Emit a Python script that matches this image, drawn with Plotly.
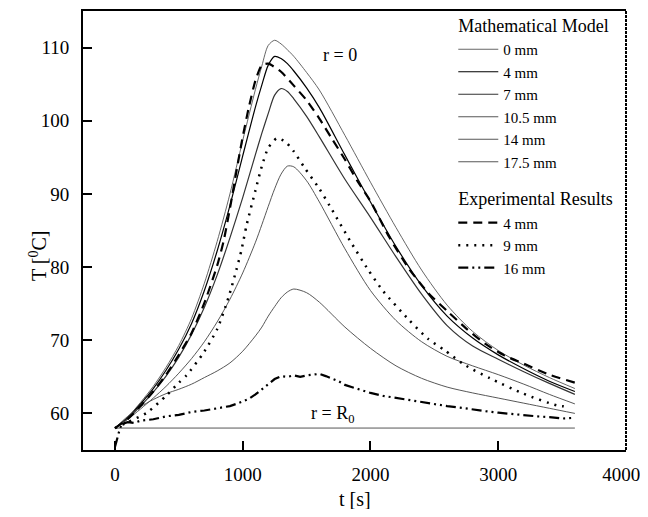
import plotly.graph_objs as go

# time grid for the model curves [s]
t_model = [0, 100, 200, 300, 400, 500, 600, 700, 800, 900, 1000, 1100, 1150, 1200, 1250,
           1300, 1350, 1400, 1500, 1600, 1800, 2000, 2200, 2400, 2600, 2800, 3000, 3200,
           3400, 3600]

# mathematical model, temperature [C]
T_0mm = [58.0, 59.5, 61.5, 63.7, 66.3, 69.3, 73.0, 77.8, 83.5, 90.0, 97.3, 104.3, 107.5,
         110.3, 111.0, 110.5, 109.7, 108.8, 106.6, 104.2, 98.0, 91.6, 85.4, 79.6, 74.8,
         71.2, 68.6, 66.6, 64.9, 63.4]
T_4mm = [58.0, 59.4, 61.3, 63.4, 65.9, 68.8, 72.3, 76.8, 82.2, 88.4, 95.2, 101.9, 104.9,
         107.6, 108.8, 108.5, 107.8, 106.8, 104.5, 101.8, 95.3, 88.9, 82.8, 77.5, 73.3,
         70.3, 68.0, 66.1, 64.4, 63.0]
T_7mm = [58.0, 59.3, 61.0, 62.9, 65.1, 67.7, 70.8, 74.5, 78.9, 84.0, 89.5, 95.4, 98.3,
         101.0, 103.5, 104.4, 104.0, 103.0, 100.6, 97.8, 92.0, 86.8, 81.4, 76.3, 72.0,
         69.2, 67.4, 65.7, 64.1, 62.6]
T_10mm = [58.0, 59.2, 60.6, 62.1, 63.7, 65.5, 67.5, 69.8, 72.5, 75.6, 79.2, 83.4, 85.8,
          88.3, 90.7, 92.7, 93.8, 93.7, 91.8, 88.9, 82.5, 76.8, 72.7, 69.8, 67.8, 66.5,
          65.3, 64.0, 62.6, 61.3]
T_14mm = [58.0, 59.6, 60.9, 61.9, 62.7, 63.3, 64.0, 64.9, 65.8, 66.9, 68.5, 70.6, 71.8,
          73.3, 74.6, 75.8, 76.6, 77.0, 76.5, 75.2, 71.8, 68.9, 66.5, 64.8, 63.6, 62.8,
          62.1, 61.4, 60.7, 60.0]
t_wall = [0, 3600]
T_wall = [58.0, 58.0]

# experimental results
t_exp4 = [0, 100, 200, 300, 400, 500, 600, 700, 800, 850, 900, 950, 1000, 1050, 1100,
          1150, 1200, 1300, 1400, 1500, 1600, 1700, 1800, 1900, 2000, 2150, 2300, 2450,
          2600, 2750, 2900, 3050, 3200, 3400, 3600]
T_exp4 = [58.0, 59.2, 61.0, 63.0, 65.3, 68.0, 71.0, 75.1, 80.2, 83.5, 88.0, 93.0, 97.8,
          102.0, 105.5, 107.6, 107.8, 106.7, 104.8, 102.8, 100.3, 97.5, 94.7, 91.7, 89.0,
          84.0, 79.8, 76.5, 74.0, 71.6, 69.5, 67.9, 66.8, 65.3, 64.2]

t_exp9 = [0, 100, 250, 400, 500, 560, 690, 800, 890, 950, 990, 1030, 1100, 1150, 1200,
          1266, 1330, 1400, 1487, 1600, 1700, 1840, 1983, 2100, 2300, 2450, 2583, 2740,
          2935, 3196, 3457, 3560]
T_exp9 = [58.0, 58.8, 60.1, 62.4, 64.2, 65.2, 68.2, 71.5, 75.9, 79.6, 82.3, 85.7, 90.5,
          93.8, 96.3, 97.6, 97.2, 95.8, 93.5, 90.7, 87.8, 83.6, 79.6, 76.7, 72.8, 70.2,
          68.6, 66.6, 64.8, 62.7, 61.1, 60.9]

t_exp16 = [0, 20, 40, 60, 100, 150, 200, 300, 400, 500, 600, 700, 800, 900, 950, 1000,
           1050, 1100, 1150, 1200, 1250, 1300, 1350, 1400, 1450, 1500, 1550, 1600, 1650,
           1700, 1750, 1800, 1900, 2000, 2100, 2200, 2300, 2400, 2500, 2600, 2700, 2800,
           2900, 3000, 3100, 3200, 3300, 3400, 3500, 3600]
T_exp16 = [55.4, 56.8, 58.0, 58.6, 58.8, 58.7, 59.0, 59.2, 59.6, 59.8, 60.2, 60.4, 60.7,
           61.0, 61.3, 61.6, 62.0, 62.6, 63.3, 64.0, 64.7, 65.1, 65.0, 65.2, 65.0, 65.2,
           65.3, 65.4, 65.1, 64.8, 64.4, 63.9, 63.3, 62.8, 62.4, 62.1, 61.8, 61.5, 61.2,
           61.0, 60.8, 60.5, 60.3, 60.1, 59.9, 59.8, 59.6, 59.5, 59.3, 59.4]

x_ticks = [0, 1000, 2000, 3000, 4000]
# last label padded so it is not cut at the window edge
x_ticktext = ['0', '1000', '2000', '3000', '4000\u00a0\u00a0']
y_ticks = [60, 70, 80, 90, 100, 110]

FONT = 'Liberation Serif'

fig = go.Figure()

model = [('0 mm', T_0mm, 0.9, '#555555'), ('4 mm', T_4mm, 1.2, 'black'),
         ('7 mm', T_7mm, 1.2, '#333333'), ('10.5 mm', T_10mm, 0.9, '#444444'),
         ('14 mm', T_14mm, 0.9, '#444444')]
for name, vals, w, col in model:
    fig.add_trace(go.Scatter(x=t_model, y=vals, name=name, mode='lines',
                             line=dict(color=col, width=w, shape='spline', smoothing=0.8),
                             legendgroup='model', legendgrouptitle_text='Mathematical Model'))
fig.add_trace(go.Scatter(x=t_wall, y=T_wall, name='17.5 mm', mode='lines',
                         line=dict(color='#444444', width=0.9),
                         legendgroup='model', legendgrouptitle_text='Mathematical Model'))

fig.add_trace(go.Scatter(x=t_exp4, y=T_exp4, name='4 mm', mode='lines',
                         line=dict(color='black', width=2.2, dash='9px,6px', shape='spline', smoothing=0.6),
                         legendgroup='exp', legendgrouptitle_text='Experimental Results'))
fig.add_trace(go.Scatter(x=t_exp9, y=T_exp9, name='9 mm', mode='lines',
                         line=dict(color='black', width=2.5, dash='2px,6px', shape='spline', smoothing=0.6),
                         legendgroup='exp', legendgrouptitle_text='Experimental Results'))
fig.add_trace(go.Scatter(x=t_exp16, y=T_exp16, name='16 mm', mode='lines',
                         line=dict(color='black', width=2.2, dash='10px,4px,2px,4px,2px,4px'),
                         legendgroup='exp', legendgrouptitle_text='Experimental Results'))

fig.add_annotation(x=1760, y=109.0, text='r = 0', showarrow=False,
                   font=dict(family=FONT, size=18, color='black'))
fig.add_annotation(x=1700, y=59.9, text='r = R<sub>0</sub>', showarrow=False,
                   font=dict(family=FONT, size=18, color='black'))

# axis titles placed by hand
fig.add_annotation(xref='paper', yref='paper', x=0.501, y=-0.112, text='t [s]',
                   xanchor='center', yanchor='middle',
                   showarrow=False, font=dict(family=FONT, size=20, color='black'))
fig.add_annotation(xref='paper', yref='paper', x=-0.083, y=0.444, text='T [<sup>0</sup>C]',
                   xanchor='center', yanchor='middle', textangle=-90,
                   showarrow=False, font=dict(family=FONT, size=20, color='black'))

# right frame edge is a broken line in the original
fig.add_shape(type='line', xref='paper', yref='paper', x0=1, x1=1, y0=0, y1=1,
              line=dict(color='black', width=2, dash='3px,1px'))

# page body adds 8px around the figure, so size and margins are trimmed by that
fig.update_layout(
    width=640, height=501,
    margin=dict(l=75, r=22, t=3, b=59, autoexpand=False),
    plot_bgcolor='white', paper_bgcolor='white',
    font=dict(family=FONT, size=19, color='black'),
    showlegend=True,
    legend=dict(x=0.995, y=1.01, xanchor='right', yanchor='top', maxheight=1,
                bgcolor='rgba(0,0,0,0)', traceorder='grouped', tracegroupgap=12,
                font=dict(family=FONT, size=15), grouptitlefont=dict(family=FONT, size=18),
                itemwidth=40),
    xaxis=dict(range=[-250, 4000], tickvals=x_ticks, ticktext=x_ticktext, automargin=False,
               showline=True, linecolor='black', linewidth=2, mirror=True,
               ticks='inside', ticklen=9, tickwidth=2, tickcolor='black',
               showgrid=False, zeroline=False, ticklabelstandoff=6,
               ticklabeloverflow='allow',
               tickfont=dict(family=FONT, size=19)),
    yaxis=dict(range=[55, 115], tickvals=y_ticks, automargin=False,
               showline=True, linecolor='black', linewidth=2,
               ticks='inside', ticklen=9, tickwidth=2, tickcolor='black',
               showgrid=False, zeroline=False, ticklabelstandoff=8,
               tickfont=dict(family=FONT, size=19)),
)

fig.write_html("out.html")
